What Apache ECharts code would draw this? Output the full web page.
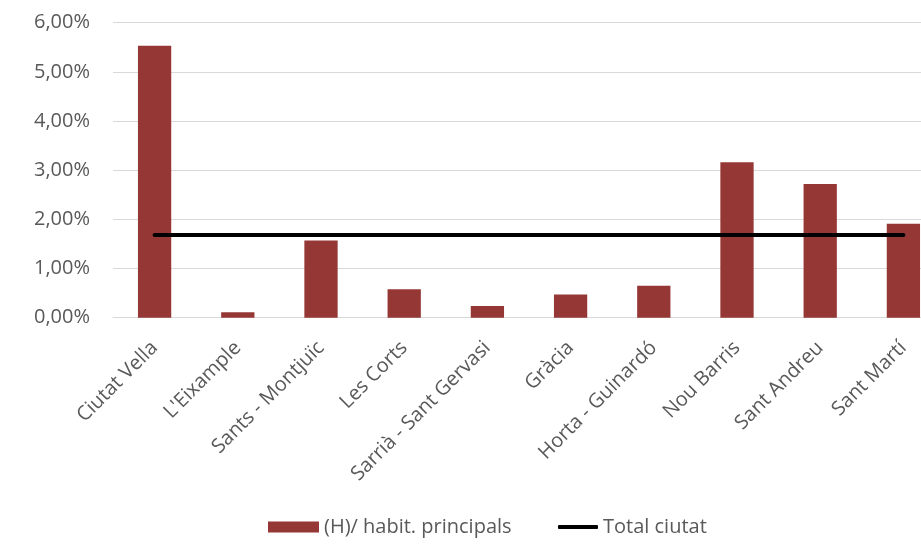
<!DOCTYPE html>
<html>
<head>
<meta charset="utf-8">
<script src="https://cdn.jsdelivr.net/npm/echarts@6/dist/echarts.min.js"></script>
<style>
  html, body { margin: 0; padding: 0; background: #ffffff; overflow: hidden; }
  /* the plot area continues a little past the window's right edge */
  #chart { width: 945px; height: 545px; }
</style>
</head>
<body>
<div id="chart"></div>
<script>
// Districts of Barcelona
const districts = [
  'Ciutat Vella', "L'Eixample", 'Sants - Montjuïc', 'Les Corts',
  'Sarrià - Sant Gervasi', 'Gràcia', 'Horta - Guinardó', 'Nou Barris',
  'Sant Andreu', 'Sant Martí'
];
// (H)/ habit. principals, in percent
const shareByDistrict = [5.53, 0.11, 1.57, 0.58, 0.24, 0.47, 0.65, 3.16, 2.72, 1.91];
// City-wide total, in percent
const cityTotal = 1.68;
const cityTotalLine = districts.map(() => cityTotal);

const barName = '(H)/ habit. principals';
const lineName = 'Total ciutat';

const textColor = '#595959';
const fontFamily = '"Open Sans", "Noto Sans", sans-serif';

const chart = echarts.init(document.getElementById('chart'), null, { renderer: 'canvas' });

chart.setOption({
  animation: false,
  backgroundColor: '#ffffff',
  grid: { left: 113, right: 0, top: 22.7, height: 295, containLabel: false },
  legend: [
    {
      data: [{ name: barName, icon: 'rect' }],
      left: 268, top: 517, padding: 0,
      itemWidth: 51, itemHeight: 11, itemGap: 6,
      textStyle: { color: textColor, fontSize: 20, fontFamily: fontFamily }
    },
    {
      data: [{ name: lineName, icon: 'roundRect' }],
      left: 558, top: 517, padding: 0,
      itemWidth: 40, itemHeight: 4, itemGap: 4,
      itemStyle: { color: '#000000' },
      textStyle: { color: textColor, fontSize: 20, fontFamily: fontFamily }
    }
  ],
  xAxis: {
    type: 'category',
    data: districts,
    boundaryGap: true,
    axisLine: { show: true, lineStyle: { color: '#d9d9d9', width: 1 } },
    axisTick: { show: false },
    axisLabel: {
      interval: 0,
      rotate: 45,
      margin: 27,
      color: textColor,
      fontSize: 20,
      fontFamily: fontFamily
    }
  },
  yAxis: {
    type: 'value',
    min: 0, max: 6, interval: 1,
    axisLine: { show: false },
    axisTick: { show: false },
    splitLine: { show: true, lineStyle: { color: '#d9d9d9', width: 1 } },
    axisLabel: {
      margin: 23,
      color: textColor,
      fontSize: 20,
      fontFamily: fontFamily,
      formatter: v => v.toFixed(2).replace('.', ',') + '%'
    }
  },
  series: [
    {
      name: barName,
      type: 'bar',
      data: shareByDistrict,
      barWidth: '40%',
      itemStyle: { color: '#953735' }
    },
    {
      name: lineName,
      type: 'line',
      data: cityTotalLine,
      symbol: 'none',
      showSymbol: false,
      lineStyle: { color: '#000000', width: 4, cap: 'round' },
      itemStyle: { color: '#000000' },
      z: 3
    }
  ]
});
</script>
</body>
</html>
